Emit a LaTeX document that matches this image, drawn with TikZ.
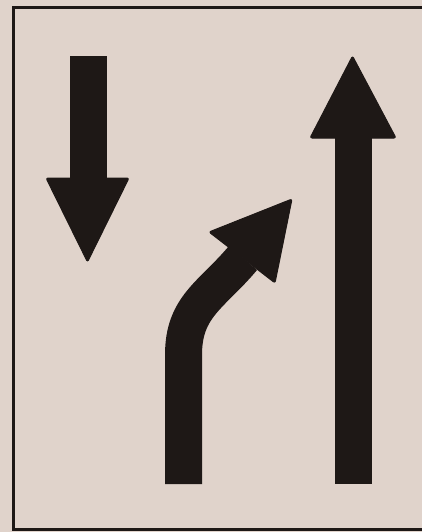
\documentclass[tikz,border=0pt]{standalone}
\usetikzlibrary{calc}
\definecolor{paper}{RGB}{224,211,203}
\definecolor{ink}{RGB}{30,24,22}
\tikzset{
  shaft/.style={draw=none,fill=ink},
  head/.style={fill=ink,draw=ink,line width=1pt,rounded corners=2pt,line join=round},
}

\begin{document}
\begin{tikzpicture}[x=1pt,y=-1pt]
\def\w{37}
\useasboundingbox (0,0) rectangle (422,532);
\fill[paper] (0,0) rectangle (422,532);
\clip (0,0) rectangle (422,532);
\draw[ink,line width=3pt] (13,8) rectangle (440,529);

% down arrow, left
\coordinate (d1) at (88.5,56);
\coordinate (d2) at (88.5,180);
\coordinate (dtip) at (87.5,262);
\fill[shaft] ($(d1)+(-\w/2,0)$) rectangle ($(d2)+(\w/2,0)$);
\filldraw[head] (46,178) -- (129,178) -- (dtip) -- cycle;

% straight arrow, right
\coordinate (s1) at (353.5,484);
\coordinate (s2) at (353.5,136);
\coordinate (stip) at (352.5,56);
\fill[shaft] ($(s1)+(-\w/2,0)$) rectangle ($(s2)+(\w/2,0)$);
\filldraw[head] (310,138) -- (396,138) -- (stip) -- cycle;

% bent arrow, middle
\coordinate (b1) at (183.5,484);
\coordinate (b2) at (183.5,355);
\coordinate (b3) at (243,258);
\coordinate (btip) at (292,199);
\draw[ink,line width=\w pt] (b1) -- (b2) to[out=90,in=230,looseness=1.1] (b3);
\filldraw[head] (209,232) -- (btip) -- (275,283) -- cycle;
\end{tikzpicture}
\end{document}
